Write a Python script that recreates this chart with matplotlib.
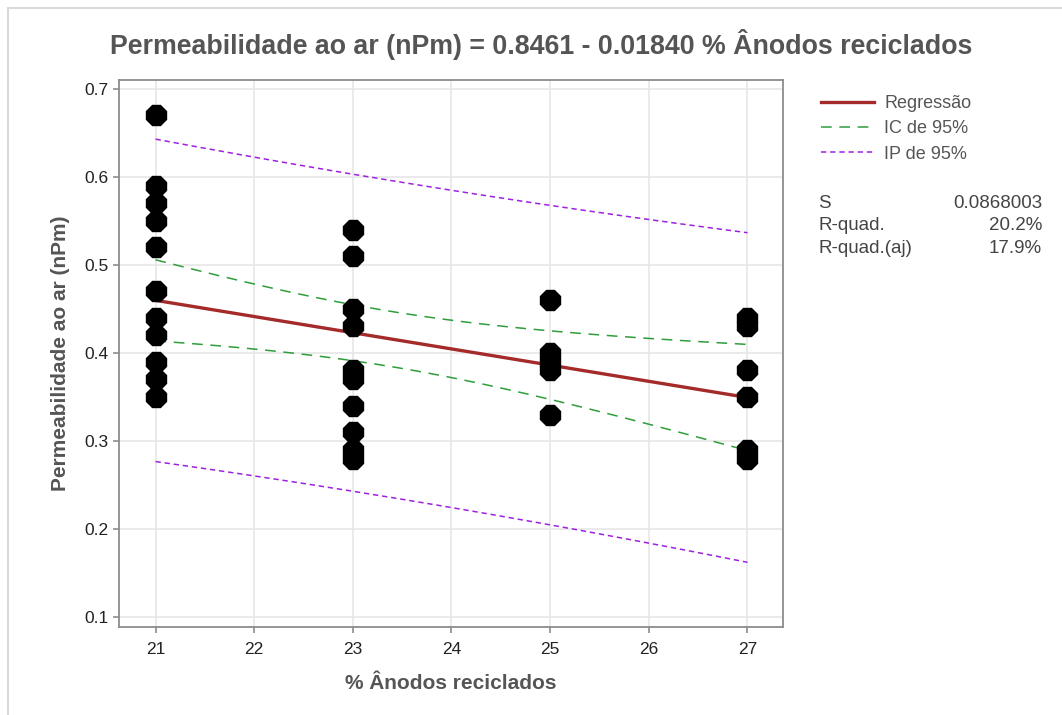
import matplotlib.pyplot as plt
import numpy as np
from matplotlib.lines import Line2D

# data
x21 = [0.67, 0.59, 0.57, 0.55, 0.52, 0.47, 0.44, 0.42, 0.39, 0.37, 0.35]
x23 = [0.54, 0.51, 0.45, 0.43, 0.38, 0.37, 0.34, 0.31, 0.29, 0.28]
x25 = [0.46, 0.40, 0.39, 0.38, 0.33]
x27 = [0.44, 0.43, 0.38, 0.35, 0.29, 0.28]
groups = [21, 23, 25, 27]

# reported fit
b0 = 0.8461
b1 = -0.01840
S = 0.0868003
r2 = "20.2%"
r2_adj = "17.9%"
t_crit = 2.042  # t(0.975, 30)

xs = np.concatenate([[g] * len(v) for g, v in zip(groups, [x21, x23, x25, x27])]).astype(float)
ys = np.concatenate([x21, x23, x25, x27])

n = len(xs)
xbar = xs.mean()
sxx = ((xs - xbar) ** 2).sum()
xg = np.linspace(21, 27, 200)
yhat = b0 + b1 * xg
se_fit = S * np.sqrt(1 / n + (xg - xbar) ** 2 / sxx)
se_pred = S * np.sqrt(1 + 1 / n + (xg - xbar) ** 2 / sxx)

plt.rcParams['font.family'] = ['Liberation Sans', 'DejaVu Sans']

fig = plt.figure(figsize=(10.62, 7.15), dpi=100)
ax = fig.add_axes([119 / 1062, 1 - 627 / 715, (783 - 119) / 1062, (627 - 80) / 715])

gray = '#555555'
ax.set_xlim(20.63, 27.36)
ax.set_ylim(0.0886, 0.710)
ax.set_xticks(range(21, 28))
ax.set_yticks([0.1, 0.2, 0.3, 0.4, 0.5, 0.6, 0.7])
ax.set_yticklabels(['0.1', '0.2', '0.3', '0.4', '0.5', '0.6', '0.7'])
ax.grid(True, color='#e6e6e6', linewidth=1.2)
ax.set_axisbelow(True)
for sp in ax.spines.values():
    sp.set_color('#8c8c8c')
    sp.set_linewidth(1.3)
ax.tick_params(colors='#8c8c8c', labelcolor='#222222', labelsize=12.5, length=4, width=1.2)
ax.tick_params(axis='x', pad=7)

ax.plot(xs, ys, '8', color='black', markersize=15, zorder=5)
ax.plot(xg, yhat, color='#a52a2a', linewidth=2.4, zorder=4)
ax.plot(xg, yhat + t_crit * se_fit, color='#2e9e3a', linewidth=1.1, dashes=(7, 5), zorder=3)
ax.plot(xg, yhat - t_crit * se_fit, color='#2e9e3a', linewidth=1.1, dashes=(7, 5), zorder=3)
ax.plot(xg, yhat + t_crit * se_pred, color='#a020e0', linewidth=1.1, dashes=(3.5, 2.5), zorder=3)
ax.plot(xg, yhat - t_crit * se_pred, color='#a020e0', linewidth=1.1, dashes=(3.5, 2.5), zorder=3)

ax.set_xlabel('% Ânodos reciclados', fontsize=15, fontweight='bold', color=gray, labelpad=12)
ax.set_ylabel('Permeabilidade ao ar (nPm)', fontsize=15, fontweight='bold', color=gray, labelpad=10)
fig.text(541 / 1062, 1 - 45 / 715, 'Permeabilidade ao ar (nPm) = 0.8461 - 0.01840 % Ânodos reciclados',
         ha='center', va='center', fontsize=19.3, fontweight='bold', color=gray)

# legend
leg_h = [Line2D([], [], color='#a52a2a', linewidth=2.4),
         Line2D([], [], color='#2e9e3a', linewidth=1.1, dashes=(7, 5)),
         Line2D([], [], color='#a020e0', linewidth=1.1, dashes=(3.5, 2.5))]
fig.legend(leg_h, ['Regressão', 'IC de 95%', 'IP de 95%'], loc='upper left',
           bbox_to_anchor=(805 / 1062, 1 - 79 / 715), frameon=False, fontsize=13,
           handlelength=2.9, labelspacing=0.45, handletextpad=0.6, labelcolor=gray)

stats = [('S', f'{S:.7f}'), ('R-quad.', r2), ('R-quad.(aj)', r2_adj)]
for i, (k, v) in enumerate(stats):
    yy = 1 - (203 + i * 23) / 715
    fig.text(818 / 1062, yy, k, ha='left', va='center', fontsize=13.5, color='#444444')
    fig.text(1042 / 1062, yy, v, ha='right', va='center', fontsize=13.5, color='#444444')

# outer frame of the graph window
fig.add_artist(Line2D([8 / 1062, 8 / 1062], [0, 1 - 8 / 715], color='#d9d9d9', linewidth=1.5))
fig.add_artist(Line2D([8 / 1062, 1], [1 - 8 / 715, 1 - 8 / 715], color='#d9d9d9', linewidth=1.5))

fig.savefig('out.png', dpi=100)
